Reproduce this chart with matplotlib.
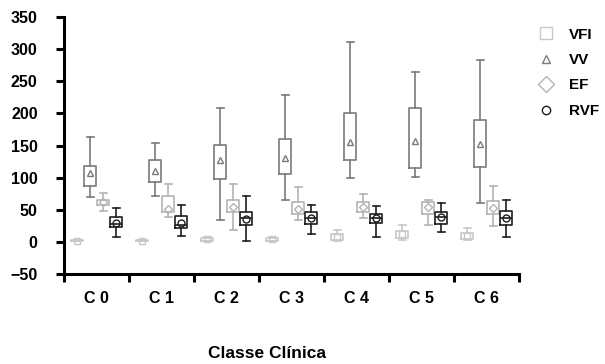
import matplotlib
matplotlib.use('Agg')
import matplotlib.pyplot as plt
from matplotlib.lines import Line2D

plt.rcParams['font.family'] = 'Liberation Sans'
plt.rcParams['font.weight'] = 'bold'

'''Data read off the picture (whislo, q1, med, q3, whishi, mean)'''
categories = ['C 0', 'C 1', 'C 2', 'C 3', 'C 4', 'C 5', 'C 6']
series = ['VFI', 'VV', 'EF', 'RVF']

vfi_lo = [1, 1, 1, 1, 1, 3, 3]
vfi_q1 = [1.5, 1.5, 2, 2, 3, 6, 5]
vfi_med = [2, 2, 4, 4, 7, 11, 9]
vfi_q3 = [2.5, 2.5, 6, 6, 12, 17, 14]
vfi_hi = [3, 3, 7, 7, 19, 26, 22]
vfi_mean = [2, 2, 4, 4, 8, 12, 9]

vv_lo = [70, 71, 34, 65, 100, 101, 60]
vv_q1 = [87, 93, 98, 106, 127, 115, 116]
vv_med = [105, 110, 127, 130, 155, 157, 152]
vv_q3 = [119, 127, 151, 160, 200, 209, 190]
vv_hi = [163, 154, 209, 229, 311, 265, 283]
vv_mean = [107, 110, 127, 130, 155, 157, 152]

ef_lo = [48, 39, 19, 34, 37, 27, 25]
ef_q1 = [57, 46, 46, 44, 47, 44, 43]
ef_med = [62, 51, 55, 52, 55, 55, 53]
ef_q3 = [66, 72, 65, 62, 62, 62, 63]
ef_hi = [76, 91, 90, 86, 74, 65, 87]
ef_mean = [62, 51, 55, 52, 55, 55, 53]

rvf_lo = [8, 10, 1, 13, 8, 15, 7]
rvf_q1 = [23, 22, 27, 28, 30, 28, 27]
rvf_med = [28, 27, 38, 38, 37, 39, 37]
rvf_q3 = [39, 41, 46, 46, 44, 47, 48]
rvf_hi = [53, 57, 72, 58, 56, 60, 66]
rvf_mean = [30, 30, 35, 37, 37, 39, 37]

data = {
    'VFI': (vfi_lo, vfi_q1, vfi_med, vfi_q3, vfi_hi, vfi_mean),
    'VV': (vv_lo, vv_q1, vv_med, vv_q3, vv_hi, vv_mean),
    'EF': (ef_lo, ef_q1, ef_med, ef_q3, ef_hi, ef_mean),
    'RVF': (rvf_lo, rvf_q1, rvf_med, rvf_q3, rvf_hi, rvf_mean),
}
colors = {'VFI': '#c8c8c8', 'VV': '#7a7a7a', 'EF': '#b4b4b4', 'RVF': '#1e1e1e'}
markers = {'VFI': 's', 'VV': '^', 'EF': 'D', 'RVF': 'o'}
offsets = {'VFI': -0.3, 'VV': -0.1, 'EF': 0.1, 'RVF': 0.3}

fig = plt.figure(figsize=(6.05, 3.64), dpi=100)
ax = fig.add_axes([0.106, 0.247, 0.752, 0.706])

for name in series:
    lo, q1, med, q3, hi, mean = data[name]
    stats = []
    for i in range(len(categories)):
        stats.append({'whislo': lo[i], 'q1': q1[i], 'med': med[i], 'q3': q3[i],
                      'whishi': hi[i], 'mean': mean[i], 'fliers': []})
    pos = [i + offsets[name] for i in range(len(categories))]
    c = colors[name]
    ax.bxp(stats, positions=pos, widths=0.19, capwidths=0.11, showmeans=True,
           boxprops=dict(color=c, linewidth=1.2),
           whiskerprops=dict(color=c, linewidth=1.2),
           capprops=dict(color=c, linewidth=1.2),
           medianprops=dict(color=c, linewidth=1.2 if name == 'RVF' else 0),
           meanprops=dict(marker=markers[name], markerfacecolor='none',
                          markeredgecolor=c, markersize=5 if name != 'EF' else 4.5,
                          markeredgewidth=1.0),
           manage_ticks=False)

ax.set_xlim(-0.5, 6.5)
ax.set_ylim(-50, 350)
ax.set_yticks(range(-50, 351, 50))
ax.set_xticks([i - 0.5 for i in range(len(categories) + 1)])
ax.set_xticklabels([])
ax.set_xticks(range(len(categories)), minor=True)
ax.set_xticklabels(categories, minor=True, fontsize=11.5, fontweight='bold')
ax.tick_params(axis='x', which='major', direction='out', length=6, width=2.2)
ax.tick_params(axis='x', which='minor', length=0, pad=12)
ax.tick_params(axis='y', direction='out', length=6, width=2.2, pad=13, labelsize=11.5)
for t in ax.get_yticklabels():
    t.set_fontweight('bold')

ax.spines['top'].set_visible(False)
ax.spines['right'].set_visible(False)
ax.spines['left'].set_linewidth(2.2)
ax.spines['bottom'].set_linewidth(2.2)

fig.text(267 / 605, 1 - 353 / 364, 'Classe Clínica', ha='center', va='center',
         fontsize=12.5, fontweight='bold')

handles = [Line2D([], [], linestyle='none', marker=markers[s], markerfacecolor='none',
                  markeredgecolor=colors[s], markersize=8 if s in ('VFI', 'EF') else 6,
                  markeredgewidth=1.0) for s in series]
leg = fig.legend(handles, series, loc='upper left', bbox_to_anchor=(0.864, 0.962),
                 frameon=False, prop={'weight': 'bold', 'size': 11},
                 handletextpad=0.9, labelspacing=0.75, handlelength=1.2)

plt.savefig('out.png', dpi=100)
